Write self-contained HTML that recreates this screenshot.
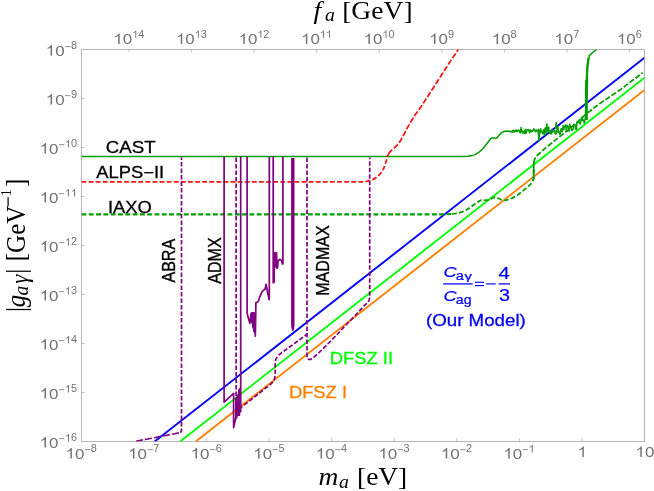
<!DOCTYPE html>
<html><head><meta charset="utf-8"><title>Axion photon coupling</title>
<style>
html,body{margin:0;padding:0;background:#fff;}
body{width:654px;height:491px;overflow:hidden;font-family:"Liberation Sans",sans-serif;}
svg{display:block;will-change:transform;}
svg text{font-family:"Liberation Sans",sans-serif;}
svg text.ser{font-family:"Liberation Serif",serif;}
</style></head><body>
<svg width="654" height="491" viewBox="0 0 654 491">
<defs><clipPath id="clip"><rect x="81.5" y="49.5" width="563.00" height="392.00"/></clipPath></defs>
<rect x="0" y="0" width="654" height="491" fill="#ffffff"/>
<rect x="81.5" y="49.5" width="563.00" height="392.00" fill="none" stroke="#b6b6b6" stroke-width="1"/>
<line x1="81.50" y1="441.5" x2="81.50" y2="438.2" stroke="#b6b6b6" stroke-width="0.8"/>
<line x1="144.06" y1="441.5" x2="144.06" y2="438.2" stroke="#b6b6b6" stroke-width="0.8"/>
<line x1="206.61" y1="441.5" x2="206.61" y2="438.2" stroke="#b6b6b6" stroke-width="0.8"/>
<line x1="269.17" y1="441.5" x2="269.17" y2="438.2" stroke="#b6b6b6" stroke-width="0.8"/>
<line x1="331.72" y1="441.5" x2="331.72" y2="438.2" stroke="#b6b6b6" stroke-width="0.8"/>
<line x1="394.28" y1="441.5" x2="394.28" y2="438.2" stroke="#b6b6b6" stroke-width="0.8"/>
<line x1="456.83" y1="441.5" x2="456.83" y2="438.2" stroke="#b6b6b6" stroke-width="0.8"/>
<line x1="519.39" y1="441.5" x2="519.39" y2="438.2" stroke="#b6b6b6" stroke-width="0.8"/>
<line x1="581.94" y1="441.5" x2="581.94" y2="438.2" stroke="#b6b6b6" stroke-width="0.8"/>
<line x1="644.50" y1="441.5" x2="644.50" y2="438.2" stroke="#b6b6b6" stroke-width="0.8"/>
<line x1="81.5" y1="49.50" x2="84.8" y2="49.50" stroke="#b6b6b6" stroke-width="0.8"/>
<line x1="81.5" y1="98.50" x2="84.8" y2="98.50" stroke="#b6b6b6" stroke-width="0.8"/>
<line x1="81.5" y1="147.50" x2="84.8" y2="147.50" stroke="#b6b6b6" stroke-width="0.8"/>
<line x1="81.5" y1="196.50" x2="84.8" y2="196.50" stroke="#b6b6b6" stroke-width="0.8"/>
<line x1="81.5" y1="245.50" x2="84.8" y2="245.50" stroke="#b6b6b6" stroke-width="0.8"/>
<line x1="81.5" y1="294.50" x2="84.8" y2="294.50" stroke="#b6b6b6" stroke-width="0.8"/>
<line x1="81.5" y1="343.50" x2="84.8" y2="343.50" stroke="#b6b6b6" stroke-width="0.8"/>
<line x1="81.5" y1="392.50" x2="84.8" y2="392.50" stroke="#b6b6b6" stroke-width="0.8"/>
<line x1="81.5" y1="441.50" x2="84.8" y2="441.50" stroke="#b6b6b6" stroke-width="0.8"/>
<line x1="629.50" y1="49.5" x2="629.50" y2="52.8" stroke="#b6b6b6" stroke-width="0.8"/>
<line x1="566.94" y1="49.5" x2="566.94" y2="52.8" stroke="#b6b6b6" stroke-width="0.8"/>
<line x1="504.39" y1="49.5" x2="504.39" y2="52.8" stroke="#b6b6b6" stroke-width="0.8"/>
<line x1="441.83" y1="49.5" x2="441.83" y2="52.8" stroke="#b6b6b6" stroke-width="0.8"/>
<line x1="379.28" y1="49.5" x2="379.28" y2="52.8" stroke="#b6b6b6" stroke-width="0.8"/>
<line x1="316.72" y1="49.5" x2="316.72" y2="52.8" stroke="#b6b6b6" stroke-width="0.8"/>
<line x1="254.17" y1="49.5" x2="254.17" y2="52.8" stroke="#b6b6b6" stroke-width="0.8"/>
<line x1="191.61" y1="49.5" x2="191.61" y2="52.8" stroke="#b6b6b6" stroke-width="0.8"/>
<line x1="129.06" y1="49.5" x2="129.06" y2="52.8" stroke="#b6b6b6" stroke-width="0.8"/>
<g transform="translate(65.56,458.60) scale(1.16,1)">
<path d="M763 0H583V1147Q518 1085 412 1023Q307 961 223 930V1104Q374 1175 487 1276Q600 1377 647 1472H763Z" transform="translate(0.000,0.00) scale(0.007129,-0.007129)" fill="#727272"/>
<text x="8.118" y="0.00" font-size="14.6" fill="#727272">0</text>
</g>
<g transform="translate(84.40,452.40) scale(1.07,1)">
<line x1="0.510" y1="-2.75" x2="5.447" y2="-2.75" stroke="#727272" stroke-width="0.76"/>
<text x="5.957" y="0.00" font-size="10.2" fill="#727272">8</text>
</g>
<g transform="translate(128.12,458.60) scale(1.16,1)">
<path d="M763 0H583V1147Q518 1085 412 1023Q307 961 223 930V1104Q374 1175 487 1276Q600 1377 647 1472H763Z" transform="translate(0.000,0.00) scale(0.007129,-0.007129)" fill="#727272"/>
<text x="8.118" y="0.00" font-size="14.6" fill="#727272">0</text>
</g>
<g transform="translate(146.95,452.40) scale(1.07,1)">
<line x1="0.510" y1="-2.75" x2="5.447" y2="-2.75" stroke="#727272" stroke-width="0.76"/>
<text x="5.957" y="0.00" font-size="10.2" fill="#727272">7</text>
</g>
<g transform="translate(190.67,458.60) scale(1.16,1)">
<path d="M763 0H583V1147Q518 1085 412 1023Q307 961 223 930V1104Q374 1175 487 1276Q600 1377 647 1472H763Z" transform="translate(0.000,0.00) scale(0.007129,-0.007129)" fill="#727272"/>
<text x="8.118" y="0.00" font-size="14.6" fill="#727272">0</text>
</g>
<g transform="translate(209.51,452.40) scale(1.07,1)">
<line x1="0.510" y1="-2.75" x2="5.447" y2="-2.75" stroke="#727272" stroke-width="0.76"/>
<text x="5.957" y="0.00" font-size="10.2" fill="#727272">6</text>
</g>
<g transform="translate(253.23,458.60) scale(1.16,1)">
<path d="M763 0H583V1147Q518 1085 412 1023Q307 961 223 930V1104Q374 1175 487 1276Q600 1377 647 1472H763Z" transform="translate(0.000,0.00) scale(0.007129,-0.007129)" fill="#727272"/>
<text x="8.118" y="0.00" font-size="14.6" fill="#727272">0</text>
</g>
<g transform="translate(272.06,452.40) scale(1.07,1)">
<line x1="0.510" y1="-2.75" x2="5.447" y2="-2.75" stroke="#727272" stroke-width="0.76"/>
<text x="5.957" y="0.00" font-size="10.2" fill="#727272">5</text>
</g>
<g transform="translate(315.78,458.60) scale(1.16,1)">
<path d="M763 0H583V1147Q518 1085 412 1023Q307 961 223 930V1104Q374 1175 487 1276Q600 1377 647 1472H763Z" transform="translate(0.000,0.00) scale(0.007129,-0.007129)" fill="#727272"/>
<text x="8.118" y="0.00" font-size="14.6" fill="#727272">0</text>
</g>
<g transform="translate(334.62,452.40) scale(1.07,1)">
<line x1="0.510" y1="-2.75" x2="5.447" y2="-2.75" stroke="#727272" stroke-width="0.76"/>
<text x="5.957" y="0.00" font-size="10.2" fill="#727272">4</text>
</g>
<g transform="translate(378.34,458.60) scale(1.16,1)">
<path d="M763 0H583V1147Q518 1085 412 1023Q307 961 223 930V1104Q374 1175 487 1276Q600 1377 647 1472H763Z" transform="translate(0.000,0.00) scale(0.007129,-0.007129)" fill="#727272"/>
<text x="8.118" y="0.00" font-size="14.6" fill="#727272">0</text>
</g>
<g transform="translate(397.17,452.40) scale(1.07,1)">
<line x1="0.510" y1="-2.75" x2="5.447" y2="-2.75" stroke="#727272" stroke-width="0.76"/>
<text x="5.957" y="0.00" font-size="10.2" fill="#727272">3</text>
</g>
<g transform="translate(440.90,458.60) scale(1.16,1)">
<path d="M763 0H583V1147Q518 1085 412 1023Q307 961 223 930V1104Q374 1175 487 1276Q600 1377 647 1472H763Z" transform="translate(0.000,0.00) scale(0.007129,-0.007129)" fill="#727272"/>
<text x="8.118" y="0.00" font-size="14.6" fill="#727272">0</text>
</g>
<g transform="translate(459.73,452.40) scale(1.07,1)">
<line x1="0.510" y1="-2.75" x2="5.447" y2="-2.75" stroke="#727272" stroke-width="0.76"/>
<text x="5.957" y="0.00" font-size="10.2" fill="#727272">2</text>
</g>
<g transform="translate(503.45,458.60) scale(1.16,1)">
<path d="M763 0H583V1147Q518 1085 412 1023Q307 961 223 930V1104Q374 1175 487 1276Q600 1377 647 1472H763Z" transform="translate(0.000,0.00) scale(0.007129,-0.007129)" fill="#727272"/>
<text x="8.118" y="0.00" font-size="14.6" fill="#727272">0</text>
</g>
<g transform="translate(522.28,452.40) scale(1.07,1)">
<line x1="0.510" y1="-2.75" x2="5.447" y2="-2.75" stroke="#727272" stroke-width="0.76"/>
<path d="M763 0H583V1147Q518 1085 412 1023Q307 961 223 930V1104Q374 1175 487 1276Q600 1377 647 1472H763Z" transform="translate(5.957,0.00) scale(0.004980,-0.004980)" fill="#727272"/>
</g>
<g transform="translate(577.54,457.00) scale(1.16,1)">
<path d="M763 0H583V1147Q518 1085 412 1023Q307 961 223 930V1104Q374 1175 487 1276Q600 1377 647 1472H763Z" transform="translate(0.000,0.00) scale(0.007129,-0.007129)" fill="#727272"/>
</g>
<g transform="translate(635.48,457.00) scale(1.16,1)">
<path d="M763 0H583V1147Q518 1085 412 1023Q307 961 223 930V1104Q374 1175 487 1276Q600 1377 647 1472H763Z" transform="translate(0.000,0.00) scale(0.007129,-0.007129)" fill="#727272"/>
<text x="8.118" y="0.00" font-size="14.6" fill="#727272">0</text>
</g>
<g transform="translate(45.73,55.60) scale(1.16,1)">
<path d="M763 0H583V1147Q518 1085 412 1023Q307 961 223 930V1104Q374 1175 487 1276Q600 1377 647 1472H763Z" transform="translate(0.000,0.00) scale(0.007129,-0.007129)" fill="#727272"/>
<text x="8.118" y="0.00" font-size="14.6" fill="#727272">0</text>
</g>
<g transform="translate(64.56,49.40) scale(1.07,1)">
<line x1="0.510" y1="-2.75" x2="5.447" y2="-2.75" stroke="#727272" stroke-width="0.76"/>
<text x="5.957" y="0.00" font-size="10.2" fill="#727272">8</text>
</g>
<g transform="translate(45.73,104.60) scale(1.16,1)">
<path d="M763 0H583V1147Q518 1085 412 1023Q307 961 223 930V1104Q374 1175 487 1276Q600 1377 647 1472H763Z" transform="translate(0.000,0.00) scale(0.007129,-0.007129)" fill="#727272"/>
<text x="8.118" y="0.00" font-size="14.6" fill="#727272">0</text>
</g>
<g transform="translate(64.56,98.40) scale(1.07,1)">
<line x1="0.510" y1="-2.75" x2="5.447" y2="-2.75" stroke="#727272" stroke-width="0.76"/>
<text x="5.957" y="0.00" font-size="10.2" fill="#727272">9</text>
</g>
<g transform="translate(39.66,153.60) scale(1.16,1)">
<path d="M763 0H583V1147Q518 1085 412 1023Q307 961 223 930V1104Q374 1175 487 1276Q600 1377 647 1472H763Z" transform="translate(0.000,0.00) scale(0.007129,-0.007129)" fill="#727272"/>
<text x="8.118" y="0.00" font-size="14.6" fill="#727272">0</text>
</g>
<g transform="translate(58.49,147.40) scale(1.07,1)">
<line x1="0.510" y1="-2.75" x2="5.447" y2="-2.75" stroke="#727272" stroke-width="0.76"/>
<path d="M763 0H583V1147Q518 1085 412 1023Q307 961 223 930V1104Q374 1175 487 1276Q600 1377 647 1472H763Z" transform="translate(5.957,0.00) scale(0.004980,-0.004980)" fill="#727272"/>
<text x="11.628" y="0.00" font-size="10.2" fill="#727272">0</text>
</g>
<g transform="translate(39.66,202.60) scale(1.16,1)">
<path d="M763 0H583V1147Q518 1085 412 1023Q307 961 223 930V1104Q374 1175 487 1276Q600 1377 647 1472H763Z" transform="translate(0.000,0.00) scale(0.007129,-0.007129)" fill="#727272"/>
<text x="8.118" y="0.00" font-size="14.6" fill="#727272">0</text>
</g>
<g transform="translate(58.49,196.40) scale(1.07,1)">
<line x1="0.510" y1="-2.75" x2="5.447" y2="-2.75" stroke="#727272" stroke-width="0.76"/>
<path d="M763 0H583V1147Q518 1085 412 1023Q307 961 223 930V1104Q374 1175 487 1276Q600 1377 647 1472H763Z" transform="translate(5.957,0.00) scale(0.004980,-0.004980)" fill="#727272"/>
<path d="M763 0H583V1147Q518 1085 412 1023Q307 961 223 930V1104Q374 1175 487 1276Q600 1377 647 1472H763Z" transform="translate(11.628,0.00) scale(0.004980,-0.004980)" fill="#727272"/>
</g>
<g transform="translate(39.66,251.60) scale(1.16,1)">
<path d="M763 0H583V1147Q518 1085 412 1023Q307 961 223 930V1104Q374 1175 487 1276Q600 1377 647 1472H763Z" transform="translate(0.000,0.00) scale(0.007129,-0.007129)" fill="#727272"/>
<text x="8.118" y="0.00" font-size="14.6" fill="#727272">0</text>
</g>
<g transform="translate(58.49,245.40) scale(1.07,1)">
<line x1="0.510" y1="-2.75" x2="5.447" y2="-2.75" stroke="#727272" stroke-width="0.76"/>
<path d="M763 0H583V1147Q518 1085 412 1023Q307 961 223 930V1104Q374 1175 487 1276Q600 1377 647 1472H763Z" transform="translate(5.957,0.00) scale(0.004980,-0.004980)" fill="#727272"/>
<text x="11.628" y="0.00" font-size="10.2" fill="#727272">2</text>
</g>
<g transform="translate(39.66,300.60) scale(1.16,1)">
<path d="M763 0H583V1147Q518 1085 412 1023Q307 961 223 930V1104Q374 1175 487 1276Q600 1377 647 1472H763Z" transform="translate(0.000,0.00) scale(0.007129,-0.007129)" fill="#727272"/>
<text x="8.118" y="0.00" font-size="14.6" fill="#727272">0</text>
</g>
<g transform="translate(58.49,294.40) scale(1.07,1)">
<line x1="0.510" y1="-2.75" x2="5.447" y2="-2.75" stroke="#727272" stroke-width="0.76"/>
<path d="M763 0H583V1147Q518 1085 412 1023Q307 961 223 930V1104Q374 1175 487 1276Q600 1377 647 1472H763Z" transform="translate(5.957,0.00) scale(0.004980,-0.004980)" fill="#727272"/>
<text x="11.628" y="0.00" font-size="10.2" fill="#727272">3</text>
</g>
<g transform="translate(39.66,349.60) scale(1.16,1)">
<path d="M763 0H583V1147Q518 1085 412 1023Q307 961 223 930V1104Q374 1175 487 1276Q600 1377 647 1472H763Z" transform="translate(0.000,0.00) scale(0.007129,-0.007129)" fill="#727272"/>
<text x="8.118" y="0.00" font-size="14.6" fill="#727272">0</text>
</g>
<g transform="translate(58.49,343.40) scale(1.07,1)">
<line x1="0.510" y1="-2.75" x2="5.447" y2="-2.75" stroke="#727272" stroke-width="0.76"/>
<path d="M763 0H583V1147Q518 1085 412 1023Q307 961 223 930V1104Q374 1175 487 1276Q600 1377 647 1472H763Z" transform="translate(5.957,0.00) scale(0.004980,-0.004980)" fill="#727272"/>
<text x="11.628" y="0.00" font-size="10.2" fill="#727272">4</text>
</g>
<g transform="translate(39.66,398.60) scale(1.16,1)">
<path d="M763 0H583V1147Q518 1085 412 1023Q307 961 223 930V1104Q374 1175 487 1276Q600 1377 647 1472H763Z" transform="translate(0.000,0.00) scale(0.007129,-0.007129)" fill="#727272"/>
<text x="8.118" y="0.00" font-size="14.6" fill="#727272">0</text>
</g>
<g transform="translate(58.49,392.40) scale(1.07,1)">
<line x1="0.510" y1="-2.75" x2="5.447" y2="-2.75" stroke="#727272" stroke-width="0.76"/>
<path d="M763 0H583V1147Q518 1085 412 1023Q307 961 223 930V1104Q374 1175 487 1276Q600 1377 647 1472H763Z" transform="translate(5.957,0.00) scale(0.004980,-0.004980)" fill="#727272"/>
<text x="11.628" y="0.00" font-size="10.2" fill="#727272">5</text>
</g>
<g transform="translate(39.66,447.60) scale(1.16,1)">
<path d="M763 0H583V1147Q518 1085 412 1023Q307 961 223 930V1104Q374 1175 487 1276Q600 1377 647 1472H763Z" transform="translate(0.000,0.00) scale(0.007129,-0.007129)" fill="#727272"/>
<text x="8.118" y="0.00" font-size="14.6" fill="#727272">0</text>
</g>
<g transform="translate(58.49,441.40) scale(1.07,1)">
<line x1="0.510" y1="-2.75" x2="5.447" y2="-2.75" stroke="#727272" stroke-width="0.76"/>
<path d="M763 0H583V1147Q518 1085 412 1023Q307 961 223 930V1104Q374 1175 487 1276Q600 1377 647 1472H763Z" transform="translate(5.957,0.00) scale(0.004980,-0.004980)" fill="#727272"/>
<text x="11.628" y="0.00" font-size="10.2" fill="#727272">6</text>
</g>
<g transform="translate(616.85,44.00) scale(1.16,1)">
<path d="M763 0H583V1147Q518 1085 412 1023Q307 961 223 930V1104Q374 1175 487 1276Q600 1377 647 1472H763Z" transform="translate(0.000,0.00) scale(0.007129,-0.007129)" fill="#727272"/>
<text x="8.118" y="0.00" font-size="14.6" fill="#727272">0</text>
</g>
<g transform="translate(635.68,37.80) scale(1.07,1)">
<text x="0.000" y="0.00" font-size="10.2" fill="#727272">6</text>
</g>
<g transform="translate(554.29,44.00) scale(1.16,1)">
<path d="M763 0H583V1147Q518 1085 412 1023Q307 961 223 930V1104Q374 1175 487 1276Q600 1377 647 1472H763Z" transform="translate(0.000,0.00) scale(0.007129,-0.007129)" fill="#727272"/>
<text x="8.118" y="0.00" font-size="14.6" fill="#727272">0</text>
</g>
<g transform="translate(573.13,37.80) scale(1.07,1)">
<text x="0.000" y="0.00" font-size="10.2" fill="#727272">7</text>
</g>
<g transform="translate(491.74,44.00) scale(1.16,1)">
<path d="M763 0H583V1147Q518 1085 412 1023Q307 961 223 930V1104Q374 1175 487 1276Q600 1377 647 1472H763Z" transform="translate(0.000,0.00) scale(0.007129,-0.007129)" fill="#727272"/>
<text x="8.118" y="0.00" font-size="14.6" fill="#727272">0</text>
</g>
<g transform="translate(510.57,37.80) scale(1.07,1)">
<text x="0.000" y="0.00" font-size="10.2" fill="#727272">8</text>
</g>
<g transform="translate(429.18,44.00) scale(1.16,1)">
<path d="M763 0H583V1147Q518 1085 412 1023Q307 961 223 930V1104Q374 1175 487 1276Q600 1377 647 1472H763Z" transform="translate(0.000,0.00) scale(0.007129,-0.007129)" fill="#727272"/>
<text x="8.118" y="0.00" font-size="14.6" fill="#727272">0</text>
</g>
<g transform="translate(448.02,37.80) scale(1.07,1)">
<text x="0.000" y="0.00" font-size="10.2" fill="#727272">9</text>
</g>
<g transform="translate(363.59,44.00) scale(1.16,1)">
<path d="M763 0H583V1147Q518 1085 412 1023Q307 961 223 930V1104Q374 1175 487 1276Q600 1377 647 1472H763Z" transform="translate(0.000,0.00) scale(0.007129,-0.007129)" fill="#727272"/>
<text x="8.118" y="0.00" font-size="14.6" fill="#727272">0</text>
</g>
<g transform="translate(382.43,37.80) scale(1.07,1)">
<path d="M763 0H583V1147Q518 1085 412 1023Q307 961 223 930V1104Q374 1175 487 1276Q600 1377 647 1472H763Z" transform="translate(0.000,0.00) scale(0.004980,-0.004980)" fill="#727272"/>
<text x="5.671" y="0.00" font-size="10.2" fill="#727272">0</text>
</g>
<g transform="translate(301.04,44.00) scale(1.16,1)">
<path d="M763 0H583V1147Q518 1085 412 1023Q307 961 223 930V1104Q374 1175 487 1276Q600 1377 647 1472H763Z" transform="translate(0.000,0.00) scale(0.007129,-0.007129)" fill="#727272"/>
<text x="8.118" y="0.00" font-size="14.6" fill="#727272">0</text>
</g>
<g transform="translate(319.87,37.80) scale(1.07,1)">
<path d="M763 0H583V1147Q518 1085 412 1023Q307 961 223 930V1104Q374 1175 487 1276Q600 1377 647 1472H763Z" transform="translate(0.000,0.00) scale(0.004980,-0.004980)" fill="#727272"/>
<path d="M763 0H583V1147Q518 1085 412 1023Q307 961 223 930V1104Q374 1175 487 1276Q600 1377 647 1472H763Z" transform="translate(5.671,0.00) scale(0.004980,-0.004980)" fill="#727272"/>
</g>
<g transform="translate(238.48,44.00) scale(1.16,1)">
<path d="M763 0H583V1147Q518 1085 412 1023Q307 961 223 930V1104Q374 1175 487 1276Q600 1377 647 1472H763Z" transform="translate(0.000,0.00) scale(0.007129,-0.007129)" fill="#727272"/>
<text x="8.118" y="0.00" font-size="14.6" fill="#727272">0</text>
</g>
<g transform="translate(257.31,37.80) scale(1.07,1)">
<path d="M763 0H583V1147Q518 1085 412 1023Q307 961 223 930V1104Q374 1175 487 1276Q600 1377 647 1472H763Z" transform="translate(0.000,0.00) scale(0.004980,-0.004980)" fill="#727272"/>
<text x="5.671" y="0.00" font-size="10.2" fill="#727272">2</text>
</g>
<g transform="translate(175.93,44.00) scale(1.16,1)">
<path d="M763 0H583V1147Q518 1085 412 1023Q307 961 223 930V1104Q374 1175 487 1276Q600 1377 647 1472H763Z" transform="translate(0.000,0.00) scale(0.007129,-0.007129)" fill="#727272"/>
<text x="8.118" y="0.00" font-size="14.6" fill="#727272">0</text>
</g>
<g transform="translate(194.76,37.80) scale(1.07,1)">
<path d="M763 0H583V1147Q518 1085 412 1023Q307 961 223 930V1104Q374 1175 487 1276Q600 1377 647 1472H763Z" transform="translate(0.000,0.00) scale(0.004980,-0.004980)" fill="#727272"/>
<text x="5.671" y="0.00" font-size="10.2" fill="#727272">3</text>
</g>
<g transform="translate(113.37,44.00) scale(1.16,1)">
<path d="M763 0H583V1147Q518 1085 412 1023Q307 961 223 930V1104Q374 1175 487 1276Q600 1377 647 1472H763Z" transform="translate(0.000,0.00) scale(0.007129,-0.007129)" fill="#727272"/>
<text x="8.118" y="0.00" font-size="14.6" fill="#727272">0</text>
</g>
<g transform="translate(132.20,37.80) scale(1.07,1)">
<path d="M763 0H583V1147Q518 1085 412 1023Q307 961 223 930V1104Q374 1175 487 1276Q600 1377 647 1472H763Z" transform="translate(0.000,0.00) scale(0.004980,-0.004980)" fill="#727272"/>
<text x="5.671" y="0.00" font-size="10.2" fill="#727272">4</text>
</g>
<g clip-path="url(#clip)">
<path d="M154.65 441.50 L644.50 57.80" fill="none" stroke="#0000ff" stroke-width="1.9" stroke-linejoin="round" />
<path d="M180.15 441.50 L644.50 77.77" fill="none" stroke="#00ff00" stroke-width="1.9" stroke-linejoin="round" />
<path d="M195.75 441.50 L644.50 89.99" fill="none" stroke="#ff8000" stroke-width="1.9" stroke-linejoin="round" />
<path d="M81.50 156.40 L462.00 156.40 L468.00 156.20 L472.00 155.60 L475.00 154.60 L479.00 152.20 L483.00 148.50 L487.00 143.50 L490.40 139.00 L492.00 138.00 L493.50 137.60 L495.50 138.40 L497.00 137.80 L499.00 135.50 L501.40 132.80 L504.00 131.50 L506.50 131.00 L509.00 131.30 L511.00 132.00 L511.66 131.28 L512.32 130.67 L512.98 132.35 L513.64 130.36 L514.30 131.91 L514.96 131.31 L515.62 130.24 L516.28 131.75 L516.94 130.13 L517.60 131.45 L518.26 130.20 L518.92 130.24 L519.58 131.36 L520.24 133.10 L520.90 129.84 L521.56 130.27 L522.22 132.11 L522.88 133.56 L523.54 131.83 L524.20 130.98 L524.86 133.62 L525.52 129.32 L526.18 133.03 L526.84 130.39 L527.50 129.70 L528.16 129.55 L528.82 130.41 L529.48 132.72 L530.14 129.77 L530.80 131.59 L531.46 131.83 L532.12 130.59 L532.78 131.37 L533.44 129.11 L534.10 129.08 L534.76 129.73 L535.42 131.89 L536.08 130.70 L536.74 130.15 L537.40 131.39 L538.06 130.60 L538.72 129.30 L539.38 133.45 L540.04 132.65 L540.70 128.82 L541.36 131.59 L542.02 131.17 L542.68 134.11 L543.34 132.88 L544.00 129.16 L544.66 134.97 L545.32 127.73 L545.98 130.24 L546.64 133.09 L547.30 128.00 L547.96 130.82 L548.62 127.04 L549.28 132.32 L549.94 133.12 L550.60 131.48 L551.26 133.99 L551.92 129.24 L552.58 132.41 L553.24 131.53 L553.90 131.37 L554.56 130.30 L555.22 133.49 L555.88 134.33 L556.54 130.34 L557.20 131.91 L557.86 126.80 L558.52 132.15 L559.18 131.66 L559.84 134.53 L560.50 133.06 L561.16 128.51 L561.82 129.27 L562.48 131.51 L563.14 125.61 L563.80 129.27 L564.46 126.47 L565.12 125.82 L565.78 125.10 L566.44 131.13 L567.10 125.30 L567.76 126.13 L568.42 127.18 L569.08 131.20 L569.74 124.03 L570.40 127.07 L571.06 127.74 L571.72 130.46 L572.38 129.66 L573.04 129.82 L573.70 124.43 L574.36 125.40 L575.02 124.67 L575.68 129.06 L576.34 129.47 L577.00 122.13 L577.66 122.12 L578.32 122.38 L578.98 121.99 L579.64 123.57 L580.30 123.86 L580.96 120.36 L581.62 117.45 L582.28 120.47 L582.94 119.41 L583.60 120.38 L584.26 123.02 L584.92 119.94 L585.58 117.63 L586.24 118.03 L586.00 118.00 L586.20 105.00 L586.40 90.00 L586.80 76.00 L587.40 67.00 L588.40 60.00 L589.40 55.40 L593.00 52.20 L596.90 49.20" fill="none" stroke="#009e00" stroke-width="1.5" stroke-linejoin="round" />
<path d="M520.70 131.00 L521.20 127.40 L521.70 131.50" fill="none" stroke="#009e00" stroke-width="1.5" stroke-linejoin="round" />
<path d="M546.40 130.00 L546.90 123.90 L547.40 130.00" fill="none" stroke="#009e00" stroke-width="1.5" stroke-linejoin="round" />
<path d="M555.70 129.00 L556.20 122.30 L556.70 129.00" fill="none" stroke="#009e00" stroke-width="1.5" stroke-linejoin="round" />
<path d="M538.40 132.00 L539.00 140.60 L539.70 131.00" fill="none" stroke="#009e00" stroke-width="1.6" stroke-linejoin="round" />
<path d="M586.30 120.00 L586.45 96.00 L586.70 80.00" fill="none" stroke="#009e00" stroke-width="3.0" stroke-linejoin="round" />
<path d="M586.70 82.00 L587.10 72.00 L587.70 64.00 L588.60 58.00" fill="none" stroke="#009e00" stroke-width="2.3" stroke-linejoin="round" />
<path d="M81.50 181.80 L362.00 181.80 L366.00 181.50 L369.70 180.60 L373.00 179.40 L376.20 177.60 L378.80 175.40 L381.10 172.70 L382.90 170.00 L384.30 167.00 L385.60 163.00 L386.80 158.90 L387.60 156.00 L388.60 153.80" fill="none" stroke="#ff1414" stroke-width="1.8" stroke-dasharray="4.8 2.3" stroke-linejoin="round" />
<path d="M388.60 153.80 L390.30 151.40 L392.50 149.30 L395.50 146.80 L398.20 144.20 L401.00 139.80 L403.90 134.60 L407.00 128.40 L410.40 122.40 L415.00 115.00 L420.20 108.00 L428.30 95.60 L437.00 82.00 L447.00 66.50 L457.60 50.40 L459.00 47.50" fill="none" stroke="#ff1414" stroke-width="1.8" stroke-dasharray="5.6 2.1" stroke-linejoin="round" />
<path d="M81.50 214.30 L445.00 214.30 L452.00 214.00" fill="none" stroke="#009e00" stroke-width="2.2" stroke-dasharray="4.9 2.4" stroke-linejoin="round" />
<path d="M452.00 214.00 L457.50 213.30 L462.00 211.90 L466.70 209.70 L471.50 206.50 L475.90 203.30 L478.80 201.30 L481.40 200.10 L484.00 200.00 L486.90 200.40 L489.60 199.40 L492.40 197.90 L495.00 197.30 L497.00 197.50 L498.80 198.50 L500.60 199.60 L503.00 200.30 L505.20 200.30 L509.00 199.40 L512.60 197.90 L516.30 196.00 L521.70 191.90 L524.40 189.60 L529.10 185.70 L531.00 183.90 L532.60 181.60 L533.40 178.90 L533.70 174.00 L533.70 168.00" fill="none" stroke="#009e00" stroke-width="1.75" stroke-dasharray="4.9 2.2" stroke-linejoin="round" />
<path d="M533.80 162.60 L534.30 160.20 L535.20 158.30 L538.30 154.40 L545.60 147.90 L553.80 141.40 L561.90 134.90 L568.40 130.00 L577.00 122.30 L586.70 113.50 L593.00 108.60 L599.70 103.60 L610.00 96.60 L616.00 92.70 L621.30 88.90 L632.00 80.80 L642.70 72.80" fill="none" stroke="#009e00" stroke-width="1.75" stroke-dasharray="5.4 2.0" stroke-linejoin="round" />
<path d="M533.60 180.00 L533.75 162.00" fill="none" stroke="#009e00" stroke-width="1.7" stroke-linejoin="round" />
<path d="M136.00 441.20 L160.00 436.60 L180.30 432.60" fill="none" stroke="#800080" stroke-width="1.6" stroke-dasharray="6.9 2.3" stroke-linejoin="round" />
<path d="M180.30 432.60 L181.10 431.80 L181.50 430.00 L181.50 157.60" fill="none" stroke="#800080" stroke-width="1.7" stroke-dasharray="4.5 2.0" stroke-linejoin="round" />
<path d="M236.10 157.60 L236.10 411.50 L236.80 413.00 L238.20 411.60 L239.90 408.32 L255.00 396.49 L268.00 386.31 L270.80 384.11 L273.20 381.60 L274.40 379.30 L275.00 376.50 L275.20 372.60 L275.20 361.60 L275.70 359.70 L276.80 357.60 L278.60 355.20 L284.30 350.80 L295.00 343.00 L304.20 336.40 L306.00 334.80 L306.90 333.40" fill="none" stroke="#800080" stroke-width="1.7" stroke-dasharray="4.5 2.0" stroke-linejoin="round" />
<path d="M307.00 157.60 L307.00 356.50 L307.40 358.40 L308.60 359.40 L310.60 359.40 L312.50 358.30 L318.30 353.40 L336.70 335.00 L345.00 325.90 L355.00 315.80 L364.20 305.70 L367.50 302.80 L369.10 300.40 L369.70 297.40 L369.70 157.60" fill="none" stroke="#800080" stroke-width="1.7" stroke-dasharray="4.5 2.0" stroke-linejoin="round" />
<path d="M224.10 156.80 L224.10 402.10 L233.60 393.30 L233.60 427.60 L234.60 423.00 L235.80 417.80 L236.00 398.00 L236.80 417.80 L237.40 395.00 L238.20 415.30 L238.80 390.00 L239.40 415.30 L240.00 388.40 L240.70 411.70 L240.70 156.80" fill="none" stroke="#800080" stroke-width="1.7" stroke-linejoin="round" />
<path d="M247.10 156.80 L247.10 313.00 L247.60 315.00 L248.60 319.00 L249.80 323.40 L250.50 318.00 L251.20 313.00 L251.90 322.80 L252.20 312.80 L253.00 327.70 L253.30 312.50 L253.90 331.30 L254.30 313.00 L254.80 333.00 L255.00 318.00 L255.30 336.20 L255.60 322.00 L255.90 302.60 L257.00 302.20 L258.30 301.40 L259.20 298.50 L260.20 295.90 L261.40 293.20 L262.60 291.00 L263.80 290.20 L265.00 289.20 L265.50 287.00 L266.00 284.30 L266.80 288.00 L267.60 292.50 L268.40 296.00 L269.10 299.60 L269.30 297.00 L269.30 156.80" fill="none" stroke="#800080" stroke-width="1.7" stroke-linejoin="round" />
<path d="M273.20 156.80 L273.20 282.70 L274.10 282.20 L274.30 270.00 L274.60 252.80 L275.10 266.00 L275.50 253.00 L276.00 267.00 L276.50 252.50 L277.00 268.50 L277.50 268.00 L278.00 262.00 L278.60 260.20 L279.80 259.30 L281.30 260.40 L281.90 262.00 L282.40 263.90 L282.90 263.90 L282.90 156.80" fill="none" stroke="#800080" stroke-width="1.7" stroke-linejoin="round" />
<path d="M292.00 158.00 L292.00 326.00 L292.80 330.20 L293.60 326.00 L293.60 158.00" fill="none" stroke="#800080" stroke-width="1.8" stroke-linejoin="round" />
</g>
<text transform="translate(105.8,152.8) scale(1.19,1)" font-size="15.7" fill="#000" stroke="#000" stroke-width="0.28" text-anchor="start">CAST</text>
<text transform="translate(96.3,178.1) scale(1.17,1)" font-size="15.7" fill="#000" stroke="#000" stroke-width="0.28" text-anchor="start">ALPS−II</text>
<text transform="translate(108.0,213.0) scale(1.17,1)" font-size="15.7" fill="#000" stroke="#000" stroke-width="0.28" text-anchor="start">IAXO</text>
<text transform="translate(329.8,363.9) scale(1.17,1)" font-size="15.7" fill="#00ff00" stroke="#00ff00" stroke-width="0.28" text-anchor="start">DFSZ II</text>
<text transform="translate(288.9,397.8) scale(1.17,1)" font-size="15.7" fill="#ff8000" stroke="#ff8000" stroke-width="0.28" text-anchor="start">DFSZ I</text>
<text transform="translate(175.4,282.6) rotate(-90) scale(1,1.17)" font-size="16.1" fill="#000" stroke="#000" stroke-width="0.3" text-anchor="start">ABRA</text>
<text transform="translate(220.9,283.8) rotate(-90) scale(1,1.17)" font-size="16.1" fill="#000" stroke="#000" stroke-width="0.3" text-anchor="start">ADMX</text>
<text transform="translate(328.9,295.8) rotate(-90) scale(1,1.17)" font-size="16.1" fill="#000" stroke="#000" stroke-width="0.3" text-anchor="start">MADMAX</text>
<text transform="translate(443.6,277.0) scale(1.17,1)" font-size="15.5" fill="#0000ff" stroke="#0000ff" stroke-width="0.22" font-style="italic" text-anchor="start">C</text>
<text transform="translate(455.8,279.5) scale(1.17,1)" font-size="12.4" fill="#0000ff" stroke="#0000ff" stroke-width="0.22" text-anchor="start">a</text>
<text transform="translate(464.4,279.5) scale(1.36,1)" font-size="11.0" fill="#0000ff" stroke="#0000ff" stroke-width="0.22" text-anchor="start">γ</text>
<text transform="translate(443.6,300.5) scale(1.17,1)" font-size="15.5" fill="#0000ff" stroke="#0000ff" stroke-width="0.22" font-style="italic" text-anchor="start">C</text>
<text transform="translate(455.8,303.6) scale(1.17,1)" font-size="12.1" fill="#0000ff" stroke="#0000ff" stroke-width="0.22" text-anchor="start">ag</text>
<line x1="443.1" y1="283.9" x2="472.7" y2="283.9" stroke="#0000ff" stroke-width="1.25"/>
<line x1="474.9" y1="282.3" x2="484.0" y2="282.3" stroke="#0000ff" stroke-width="1.15"/>
<line x1="474.9" y1="285.6" x2="484.0" y2="285.6" stroke="#0000ff" stroke-width="1.15"/>
<line x1="485.9" y1="283.9" x2="495.7" y2="283.9" stroke="#0000ff" stroke-width="1.15"/>
<line x1="498.6" y1="283.9" x2="510.0" y2="283.9" stroke="#0000ff" stroke-width="1.25"/>
<text transform="translate(498.5,279.0) scale(1.29,1)" font-size="15.6" fill="#0000ff" stroke="#0000ff" stroke-width="0.22" text-anchor="start">4</text>
<text transform="translate(499.0,300.6) scale(1.27,1)" font-size="15.6" fill="#0000ff" stroke="#0000ff" stroke-width="0.22" text-anchor="start">3</text>
<text transform="translate(426.0,325.7) scale(1.17,1)" font-size="16.0" fill="#0000ff" stroke="#0000ff" stroke-width="0.28" text-anchor="start">(Our Model)</text>
<text class="ser" transform="translate(313.6,19.0) scale(1.1,1)" font-size="25.0" fill="#000" font-style="italic">f</text>
<text class="ser" transform="translate(325.0,21.3) scale(1.1,1)" font-size="18.0" fill="#000" font-style="italic">a</text>
<text class="ser" transform="translate(342.2,19.0) scale(1.1,1)" font-size="25.0" fill="#000">[GeV</text>
<text class="ser" transform="translate(403.5,19.0) scale(1.1,1)" font-size="25.0" fill="#000">]</text>
<text class="ser" transform="translate(318.5,484.9) scale(1.1,1)" font-size="25.0" fill="#000" font-style="italic">m</text>
<text class="ser" transform="translate(339.0,488.3) scale(1.1,1)" font-size="18.0" fill="#000" font-style="italic">a</text>
<text class="ser" transform="translate(357.0,484.9) scale(1.1,1)" font-size="25.0" fill="#000">[eV</text>
<text class="ser" transform="translate(398.0,484.9) scale(1.1,1)" font-size="25.0" fill="#000">]</text>
<text class="ser" transform="translate(25.2,312.0) rotate(-90) scale(1,1.1)" font-size="25.0" fill="#000">|</text>
<text class="ser" transform="translate(24.6,307.2) rotate(-90) scale(1,1.1)" font-size="25.0" fill="#000" font-style="italic">g</text>
<text class="ser" transform="translate(28.2,295.6) rotate(-90) scale(1,1.1)" font-size="19.5" fill="#000" font-style="italic">a</text>
<text class="ser" transform="translate(28.0,283.8) rotate(-90) scale(1,1.1)" font-size="23.0" fill="#000" font-style="italic">γ</text>
<text class="ser" transform="translate(25.2,273.8) rotate(-90) scale(1,1.1)" font-size="25.0" fill="#000">|</text>
<text class="ser" transform="translate(25.2,261.2) rotate(-90) scale(1,1.1)" font-size="25.0" fill="#000">[GeV</text>
<line x1="8.1" y1="197.3" x2="8.1" y2="206.3" stroke="#000" stroke-width="1.25"/>
<text class="ser" transform="translate(11.4,196.2) rotate(-90) scale(1,1.1)" font-size="14.2" fill="#000">1</text>
<text class="ser" transform="translate(25.2,187.0) rotate(-90) scale(1,1.1)" font-size="25.0" fill="#000">]</text>
</svg>
</body></html>
